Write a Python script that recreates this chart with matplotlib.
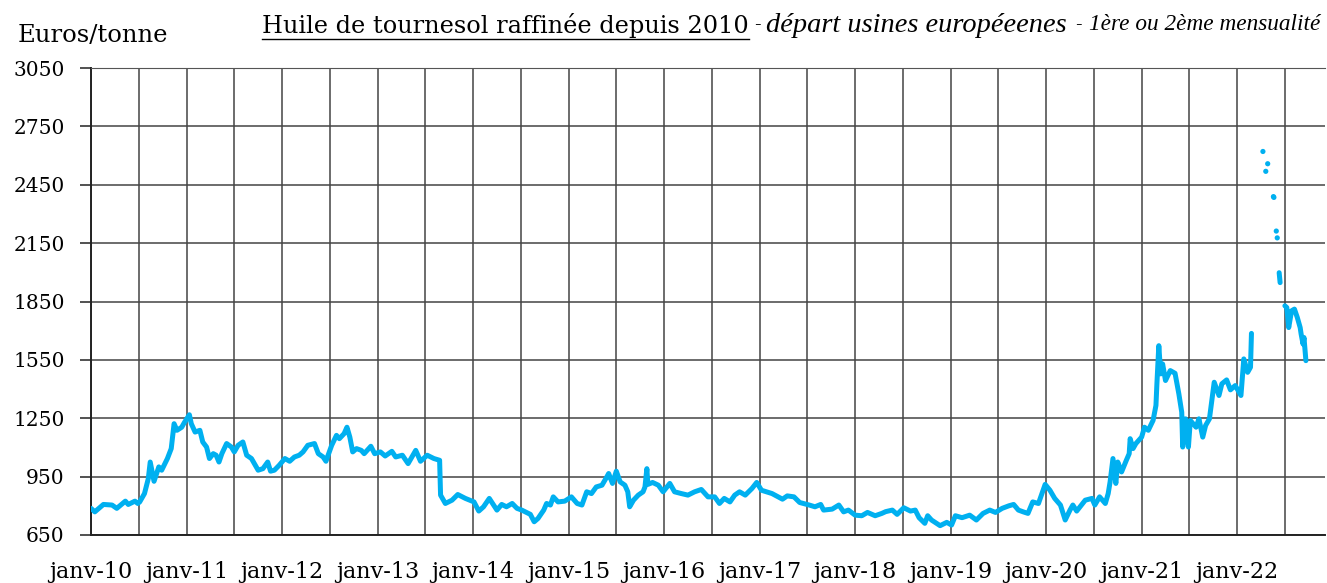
import numpy as np
import matplotlib
matplotlib.use("Agg")
import matplotlib.pyplot as plt

# dates in decimal years, prices in euros/tonne
dates = [
    2010.00, 2010.04, 2010.13, 2010.22, 2010.27, 2010.36, 2010.39, 2010.46, 2010.49, 2010.51,
    2010.56, 2010.60, 2010.62, 2010.66, 2010.71, 2010.74, 2010.80, 2010.84, 2010.86, 2010.87,
    2010.90, 2010.95, 2010.98, 2011.03, 2011.05, 2011.09, 2011.14, 2011.17, 2011.21, 2011.24,
    2011.28, 2011.31, 2011.34, 2011.37, 2011.42, 2011.47, 2011.50, 2011.54, 2011.59, 2011.63,
    2011.68, 2011.75, 2011.80, 2011.85, 2011.88, 2011.92, 2011.97, 2012.03, 2012.08, 2012.13,
    2012.18, 2012.22, 2012.27, 2012.34, 2012.38, 2012.43, 2012.46, 2012.52, 2012.57, 2012.60,
    2012.65, 2012.68, 2012.71, 2012.74, 2012.78, 2012.83, 2012.86, 2012.93, 2012.97, 2013.03,
    2013.08, 2013.15, 2013.19, 2013.26, 2013.32, 2013.40, 2013.45, 2013.52, 2013.59, 2013.65,
    2013.66, 2013.71, 2013.78, 2013.84, 2013.92, 2014.01, 2014.06, 2014.11, 2014.17, 2014.25,
    2014.30, 2014.35, 2014.41, 2014.46, 2014.51, 2014.56, 2014.60, 2014.64, 2014.68, 2014.74,
    2014.77, 2014.81, 2014.84, 2014.89, 2014.96, 2015.03, 2015.09, 2015.14, 2015.19, 2015.24,
    2015.29, 2015.35, 2015.40, 2015.42, 2015.46, 2015.50, 2015.54, 2015.59, 2015.62, 2015.64,
    2015.68, 2015.73, 2015.78, 2015.80, 2015.82, 2015.83, 2015.88, 2015.94, 2015.99, 2016.06,
    2016.11, 2016.18, 2016.25, 2016.32, 2016.39, 2016.46, 2016.53, 2016.58, 2016.63, 2016.69,
    2016.74, 2016.79, 2016.85, 2016.92, 2016.97, 2017.02, 2017.13, 2017.24, 2017.29, 2017.36,
    2017.42, 2017.52, 2017.58, 2017.64, 2017.67, 2017.76, 2017.83, 2017.88, 2017.93, 2018.00,
    2018.07, 2018.13, 2018.21, 2018.28, 2018.32, 2018.39, 2018.44, 2018.51, 2018.58, 2018.63,
    2018.67, 2018.73, 2018.76, 2018.80, 2018.89, 2018.96, 2019.01, 2019.05, 2019.12, 2019.20,
    2019.27, 2019.34, 2019.41, 2019.47, 2019.54, 2019.61, 2019.66, 2019.71, 2019.76, 2019.81,
    2019.86, 2019.92, 2019.99, 2020.04, 2020.09, 2020.15, 2020.20, 2020.25, 2020.28, 2020.32,
    2020.37, 2020.41, 2020.48, 2020.51, 2020.56, 2020.62, 2020.65, 2020.67, 2020.70, 2020.73,
    2020.75, 2020.79, 2020.84, 2020.87, 2020.88, 2020.91, 2020.94, 2021.00, 2021.03, 2021.07,
    2021.12, 2021.15, 2021.16, 2021.18, 2021.20, 2021.22, 2021.25, 2021.30, 2021.35, 2021.39,
    2021.42, 2021.43, 2021.46, 2021.49, 2021.51, 2021.57, 2021.60, 2021.64, 2021.67, 2021.71,
    2021.74, 2021.76, 2021.81, 2021.84, 2021.89, 2021.93, 2021.98, 2022.04, 2022.07, 2022.11,
    2022.14, 2022.15,
    2022.30,
    2022.44, 2022.45,
    2022.47,
    2022.50, 2022.52, 2022.54, 2022.57, 2022.60, 2022.63, 2022.66, 2022.67, 2022.69, 2022.70,
    2022.72,
]
prices = [
    787, 769, 807, 804, 787, 824, 807, 824, 812, 820,
    863, 940, 1025, 926, 1000, 983, 1043, 1094, 1179, 1222,
    1188, 1204, 1230, 1268, 1222, 1179, 1188, 1128, 1102, 1043,
    1068, 1060, 1025, 1068, 1120, 1102, 1077, 1111, 1128, 1060,
    1043, 983, 991, 1025, 978, 983, 1008, 1043, 1029, 1051,
    1060, 1077, 1111, 1120, 1068, 1051, 1029, 1111, 1162, 1145,
    1171, 1204, 1153, 1077, 1094, 1085, 1068, 1106, 1068, 1077,
    1056, 1080, 1051, 1060, 1017, 1085, 1029, 1060, 1043, 1034,
    855, 812, 829, 858, 838, 820, 773, 795, 838, 778,
    807, 795, 812, 787, 778, 766, 756, 718, 735, 778,
    812, 804, 846, 820, 824, 846, 812, 804, 872, 863,
    897, 906, 948, 966, 915, 978, 923, 906, 872, 795,
    829, 855, 872, 897, 991, 910, 920, 906, 872, 915,
    872, 863, 855, 872, 884, 846, 846, 812, 838, 820,
    855, 872, 855, 889, 920, 880, 863, 834, 851, 846,
    817, 804, 795, 807, 778, 783, 804, 769, 778, 752,
    749, 766, 749, 761, 770, 778, 756, 790, 773, 778,
    739, 710, 749, 727, 698, 715, 701, 749, 739, 752,
    727, 761, 778, 766, 787, 800, 807, 778, 769, 761,
    820, 812, 910, 880, 838, 804, 727, 778, 804, 773,
    804, 829, 838, 804, 846, 812, 863, 923, 1043, 915,
    1025, 974, 1034, 1068, 1145, 1094, 1120, 1153, 1204, 1188,
    1239, 1316, 1427, 1623, 1478, 1529, 1444, 1495, 1481, 1375,
    1281, 1102, 1247, 1102, 1239, 1204, 1247, 1153, 1213, 1247,
    1358, 1435, 1367, 1427, 1447, 1396, 1418, 1367, 1555, 1486,
    1512, 1686,
    np.nan,
    1998, 1947,
    np.nan,
    1828, 1819, 1716, 1802, 1811, 1768, 1716, 1683, 1631, 1665,
    1546,
]

# isolated quotes in spring 2022
dot_dates = [2022.27, 2022.30, 2022.32, 2022.38, 2022.385, 2022.41, 2022.42]
dot_prices = [2621, 2519, 2558, 2389, 2385, 2212, 2177]

yticks = [650, 950, 1250, 1550, 1850, 2150, 2450, 2750, 3050]
years = list(range(2010, 2023))
xlabels = [f"janv-{y % 100:02d}" for y in years]

blue = "#00B0F0"
serif = "DejaVu Serif"
title_serif = ["Liberation Serif", "DejaVu Serif"]
W, H = 1327, 583

fig = plt.figure(figsize=(W / 100, H / 100), dpi=100)
ax = fig.add_axes([91 / W, 48 / H, 1234 / W, 467 / H])

ax.plot(dates, prices, color=blue, lw=3.6, solid_joinstyle="round", solid_capstyle="round", zorder=3)
ax.scatter(dot_dates, dot_prices, s=14, color=blue, edgecolors="none", zorder=3)

ax.set_xlim(2010.0, 2022.92)
ax.set_ylim(650, 3050)

ax.set_yticks(yticks)
ax.set_yticklabels([str(v) for v in yticks], fontsize=14.5, family=serif)
ax.set_xticks(years)
ax.set_xticklabels(xlabels, fontsize=16, family=serif)
ax.set_xticks([y + 0.5 for y in years], minor=True)

ax.tick_params(axis="y", length=8, width=1.2, pad=11, color="#333333")
ax.tick_params(axis="x", which="both", length=0, pad=19)

ax.grid(True, which="both", axis="x", color="#444444", lw=1.1)
ax.grid(True, which="major", axis="y", color="#444444", lw=1.1)
ax.set_axisbelow(True)

ax.spines["right"].set_visible(False)
ax.spines["top"].set_color("#555555")
ax.spines["left"].set_color("#222222")
ax.spines["bottom"].set_color("#222222")
ax.spines["left"].set_linewidth(1.4)
ax.spines["bottom"].set_linewidth(1.4)

# unit label
fig.text(18 / W, 1 - 36 / H, "Euros/tonne", fontsize=17.5, family=serif, va="center", ha="left")

fig.canvas.draw()
renderer = fig.canvas.get_renderer()
ty = 1 - 25 / H

# main title, underlined
t = fig.text(262 / W, ty, "Huile de tournesol raffinée depuis 2010", fontsize=10,
             family=serif, va="center", ha="left")
t.set_fontsize(10 * 486 / t.get_window_extent(renderer).width)
bb = t.get_window_extent(renderer)
fig.add_artist(plt.Line2D([bb.x0 / W, bb.x1 / W], [(bb.y0 - 1) / H] * 2,
                          color="black", lw=1.0, transform=fig.transFigure))

# subtitle pieces: dash, italic, dash, smaller italic; fitted into 766..1321 px
fig.text(757 / W, ty, "-", fontsize=14, family=serif, va="center", ha="center")
sub = [("départ usines européeenes", 1.0), ("-", None), ("1ère ou 2ème mensualité", 0.82)]
arts = []
for txt, rel in sub:
    if rel is None:
        a = fig.text(0, ty, txt, fontsize=14, family=serif, va="center", ha="left")
    else:
        a = fig.text(0, ty, txt, fontsize=10 * rel, family=title_serif, style="italic",
                     va="center", ha="left")
    arts.append((a, rel))
gap = 8
dash_w = arts[1][0].get_window_extent(renderer).width
scaled = sum(a.get_window_extent(renderer).width for a, r in arts if r is not None)
k = (1321 - 766 - dash_w - 2 * gap) / scaled
for a, rel in arts:
    if rel is not None:
        a.set_fontsize(10 * rel * k)
x = 766
for a, rel in arts:
    a.set_x(x / W)
    x += a.get_window_extent(renderer).width + gap

fig.savefig("out.png", dpi=100)
